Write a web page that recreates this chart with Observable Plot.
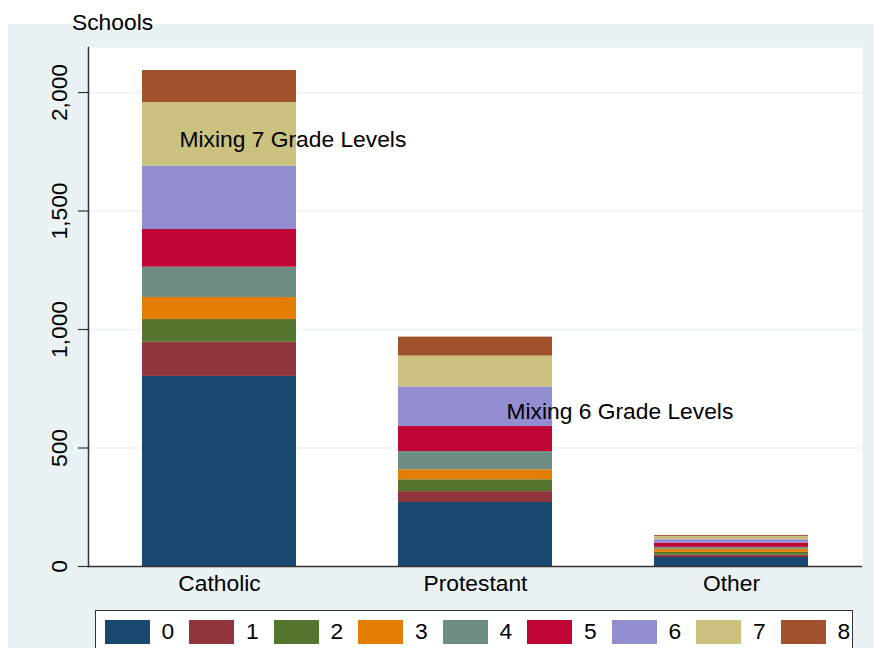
<!DOCTYPE html>
<html><head><meta charset="utf-8">
<script src="https://cdn.jsdelivr.net/npm/d3@7"></script>
<script src="https://cdn.jsdelivr.net/npm/@observablehq/plot@0.6"></script>
<style>
html,body{margin:0;padding:0;background:#fff;}
#wrap{position:relative;width:874px;height:648px;overflow:hidden;font-family:"Liberation Sans",Arial,Helvetica,sans-serif;}
#region{position:absolute;left:8px;top:24px;width:866px;height:624px;background:#eaf2f3;}
#chart{position:absolute;left:0;top:0;}
#title{position:absolute;left:72px;top:11px;font-size:22.8px;line-height:22px;color:#000;}
#legend{position:absolute;left:95px;top:610px;width:758px;height:44px;background:#fff;border:1.5px solid #333;display:flex;align-items:flex-start;padding-left:8.5px;box-sizing:border-box;}
.item{display:flex;align-items:center;width:84.5px;height:24px;margin-top:8.5px;flex:none;}
.sw{width:45px;height:24px;flex:none;}
.lab{margin-left:12px;font-size:22.8px;color:#000;}
</style></head>
<body>
<div id="wrap">
  <div id="region"></div>
  <div id="chart"></div>
  <div id="title">Schools</div>
  <div id="legend"></div>
</div>
<script>
const religions = ["Catholic", "Protestant", "Other"];
const levels = ["0", "1", "2", "3", "4", "5", "6", "7", "8"];
const catholic = [802, 144, 96, 93, 128, 159, 267, 269, 135];
const protestant = [270, 46, 50, 42, 77, 106, 167, 130, 80];
const other = [38, 10, 12, 13, 8, 18, 14, 14, 4];
const levelColors = ["#1a476f", "#90353b", "#55752f", "#e37e00", "#6e8e84", "#c10534", "#938dd2", "#cac27e", "#a0522d"];
const yTicks = [0, 500, 1000, 1500, 2000];
const notes = [
  {religion: "Catholic", schools: 1800, label: "Mixing 7 Grade Levels"},
  {religion: "Protestant", schools: 655, label: "Mixing 6 Grade Levels"}
];

const series = [catholic, protestant, other];
const rows = religions.flatMap((r, i) => levels.map((l, j) => ({religion: r, level: l, schools: series[i][j]})));
const font = '"Liberation Sans", Arial, Helvetica, sans-serif';
const fs = 22.8;

const chart = Plot.plot({
  width: 874, height: 648,
  marginLeft: 88, marginRight: 12, marginTop: 47, marginBottom: 82,
  style: {background: "transparent", fontFamily: font, fontSize: fs + "px", color: "#000"},
  x: {domain: religions, paddingInner: 0.398, paddingOuter: 0.21, label: null},
  y: {domain: [0, 2190], label: null},
  color: {domain: levels, range: levelColors},
  marks: [
    Plot.frame({fill: "white", stroke: "none"}),
    Plot.gridY(yTicks.slice(1), {stroke: "#eaf2f3", strokeOpacity: 1, strokeWidth: 1.5}),
    Plot.barY(rows, {x: "religion", y: "schools", fill: "level"}),
    Plot.axisY(yTicks, {tickSize: 10, tickFormat: () => "", label: null, stroke: "#333", strokeWidth: 1.2}),
    Plot.text(yTicks, {y: d => d, frameAnchor: "left", dx: -29, rotate: -90, text: d => d3.format(",")(d), fontSize: fs, lineAnchor: "middle", textAnchor: "middle", fill: "#000"}),
    Plot.axisX({tickSize: 0, tickPadding: 8, fontSize: fs, label: null, fill: "#000"}),
    Plot.ruleY([0], {stroke: "#333", strokeWidth: 1.5}),
    Plot.frame({anchor: "left", stroke: "#333", strokeWidth: 1.5}),
    Plot.text([notes[0]], {x: "religion", y: "schools", text: "label", textAnchor: "start", dx: -40, lineAnchor: "middle", fontSize: fs, fill: "#000"}),
    Plot.text([notes[1]], {x: "religion", y: "schools", text: "label", textAnchor: "start", dx: 31, lineAnchor: "middle", fontSize: fs, fill: "#000"})
  ]
});
document.getElementById("chart").appendChild(chart);

const legend = document.getElementById("legend");
levels.forEach((l, i) => {
  const item = document.createElement("div");
  item.className = "item";
  const sw = document.createElement("div");
  sw.className = "sw";
  sw.style.background = levelColors[i];
  const lab = document.createElement("span");
  lab.className = "lab";
  lab.textContent = l;
  item.appendChild(sw);
  item.appendChild(lab);
  legend.appendChild(item);
});
</script>
</body></html>
